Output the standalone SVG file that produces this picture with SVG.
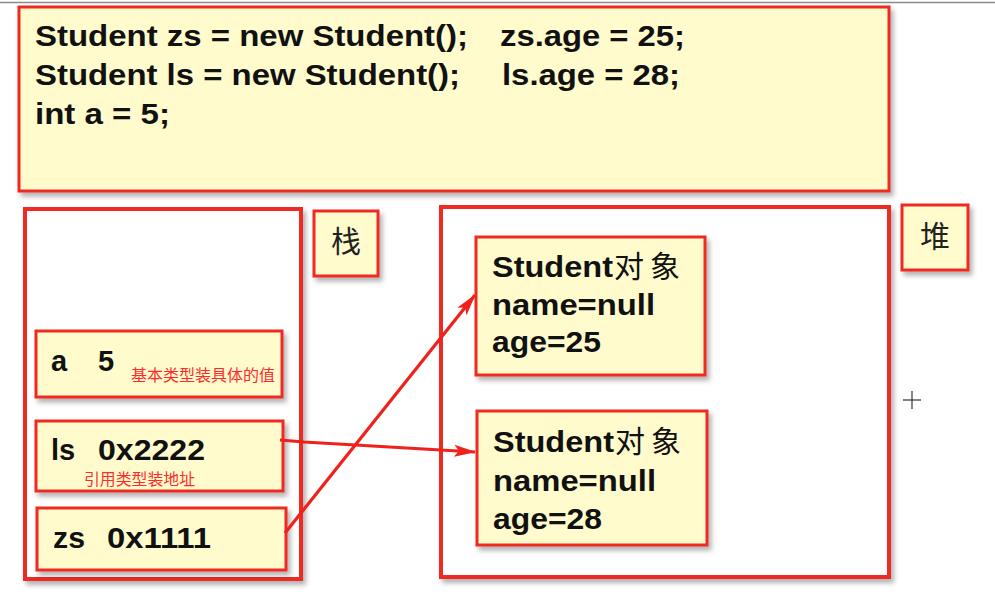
<svg xmlns="http://www.w3.org/2000/svg" width="995" height="603" viewBox="0 0 995 603">
<defs>
<filter id="sh" x="-10%" y="-10%" width="130%" height="130%">
<feDropShadow dx="3" dy="4" stdDeviation="2.5" flood-color="#000" flood-opacity="0.3"/>
</filter>
<marker id="ah" markerWidth="22" markerHeight="14" refX="21" refY="7" orient="auto" markerUnits="userSpaceOnUse">
<path d="M0,1 L22,7 L0,13 L5,7 Z" fill="#f0201c"/>
</marker>
<style>
.box{fill:#fffbcc;stroke:#ee2a20;stroke-width:3;filter:url(#sh)}
.frame{fill:#ffffff;stroke:#ee2a20;stroke-width:4;filter:url(#sh)}
.code{font-family:"Liberation Sans",Arial,sans-serif;font-weight:bold;font-size:29px;fill:#111}
.obj{font-family:"Liberation Sans","Noto Sans CJK SC",sans-serif;font-weight:bold;font-size:29px;fill:#111}
.cjk{font-family:"Noto Sans CJK SC",sans-serif;font-size:30px;fill:#222}
.note{font-family:"Noto Sans CJK SC",sans-serif;font-size:15.5px;fill:#ff2a2a}
.conn{stroke:#f0201c;stroke-width:3.2;fill:none;marker-end:url(#ah)}
</style>
</defs>
<rect width="995" height="603" fill="#ffffff"/>
<line x1="0" y1="2.5" x2="995" y2="2.5" stroke="#8a8a8a" stroke-width="1.5"/>

<g id="code">
<rect class="box" x="19" y="7" width="870" height="184"/>
<text class="code" x="35" y="46" textLength="433" lengthAdjust="spacingAndGlyphs">Student zs = new Student();</text>
<text class="code" x="500" y="46" textLength="185" lengthAdjust="spacingAndGlyphs">zs.age = 25;</text>
<text class="code" x="35" y="85" textLength="425" lengthAdjust="spacingAndGlyphs">Student ls = new Student();</text>
<text class="code" x="502" y="85" textLength="178" lengthAdjust="spacingAndGlyphs">ls.age = 28;</text>
<text class="code" x="35" y="124" textLength="135" lengthAdjust="spacingAndGlyphs">int a = 5;</text>
</g>

<g id="stack">
<rect class="frame" x="25" y="209" width="276" height="370"/>
</g>
<g id="stack-label">
<rect class="box" x="314" y="211" width="64" height="65"/>
<text class="cjk" x="346" y="252" text-anchor="middle">栈</text>
</g>

<g id="var-a">
<rect class="box" x="36" y="331" width="246" height="66"/>
<text class="code" x="51" y="371">a</text>
<text class="code" x="98" y="371">5</text>
<text class="note" x="131" y="381" textLength="144" lengthAdjust="spacingAndGlyphs">基本类型装具体的值</text>
</g>

<g id="var-ls">
<rect class="box" x="36" y="421" width="247" height="70"/>
<text class="code" x="51" y="460">ls</text>
<text class="code" x="98" y="460" textLength="107" lengthAdjust="spacingAndGlyphs">0x2222</text>
<text class="note" x="84" y="485" textLength="111" lengthAdjust="spacingAndGlyphs">引用类型装地址</text>
</g>

<g id="var-zs">
<rect class="box" x="37" y="508" width="249" height="62"/>
<text class="code" x="53" y="548" textLength="32" lengthAdjust="spacingAndGlyphs">zs</text>
<text class="code" x="107" y="548" textLength="104" lengthAdjust="spacingAndGlyphs">0x1111</text>
</g>

<g id="heap">
<rect class="frame" x="441" y="207" width="448" height="370"/>
</g>
<g id="heap-label">
<rect class="box" x="902" y="205" width="66" height="65"/>
<text class="cjk" x="935" y="247" text-anchor="middle">堆</text>
</g>

<g id="obj-zs">
<rect class="box" x="476" y="237" width="229" height="138"/>
<text class="obj" x="492" y="277"><tspan textLength="121" lengthAdjust="spacingAndGlyphs">Student</tspan><tspan font-weight="normal" font-family="'Noto Sans CJK SC',sans-serif" font-size="30" dx="1">对</tspan><tspan font-weight="normal" font-family="'Noto Sans CJK SC',sans-serif" font-size="30" dx="6">象</tspan></text>
<text class="obj" x="492" y="315" textLength="163" lengthAdjust="spacingAndGlyphs">name=null</text>
<text class="obj" x="492" y="352" textLength="109" lengthAdjust="spacingAndGlyphs">age=25</text>
</g>

<g id="obj-ls">
<rect class="box" x="477" y="411" width="230" height="134"/>
<text class="obj" x="493" y="452"><tspan textLength="121" lengthAdjust="spacingAndGlyphs">Student</tspan><tspan font-weight="normal" font-family="'Noto Sans CJK SC',sans-serif" font-size="30" dx="1">对</tspan><tspan font-weight="normal" font-family="'Noto Sans CJK SC',sans-serif" font-size="30" dx="6">象</tspan></text>
<text class="obj" x="493" y="491" textLength="163" lengthAdjust="spacingAndGlyphs">name=null</text>
<text class="obj" x="493" y="529" textLength="109" lengthAdjust="spacingAndGlyphs">age=28</text>
</g>

<g id="connectors">
<path class="conn" d="M280,440 L304,442 L475,452"/>
<path class="conn" d="M285,533 L475,295"/>
</g>

<g id="cursor" stroke="#333" stroke-width="1.2">
<line x1="903" y1="400" x2="921" y2="400"/>
<line x1="912" y1="391" x2="912" y2="409"/>
</g>
</svg>
